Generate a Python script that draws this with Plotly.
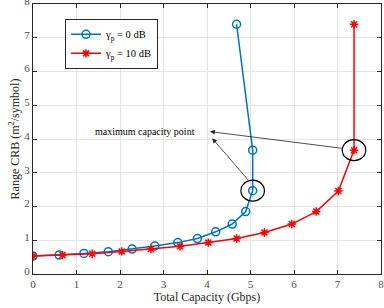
import plotly.graph_objects as go

blue_x = [0, 0.6, 1.17, 1.73, 2.28, 2.8, 3.33, 3.78, 4.2, 4.58, 4.89, 5.05, 5.05, 4.68]
blue_y = [0.53, 0.56, 0.61, 0.66, 0.74, 0.83, 0.93, 1.05, 1.25, 1.48, 1.85, 2.47, 3.67, 7.4]
red_x = [0, 0.68, 1.36, 2.04, 2.71, 3.38, 4.03, 4.68, 5.32, 5.95, 6.51, 7.02, 7.38, 7.38]
red_y = [0.53, 0.56, 0.6, 0.67, 0.74, 0.82, 0.93, 1.05, 1.23, 1.48, 1.85, 2.46, 3.67, 7.4]
x_ticks = [0, 1, 2, 3, 4, 5, 6, 7, 8]
y_ticks = [0, 1, 2, 3, 4, 5, 6, 7, 8]
label_text = "maximum capacity point"
label_pos = (2.57, 4.22)
arrow_head = (4.07, 4.22)

FONT = "Liberation Serif"
blue = "#0072BD"
red = "#FF0000"

fig = go.Figure()
fig.add_trace(go.Scatter(x=blue_x, y=blue_y, mode="lines+markers", name="γ<sub>p</sub> = 0 dB",
                         line=dict(color=blue, width=1.5),
                         marker=dict(symbol="circle-open", size=8, color=blue, line=dict(width=1.5, color=blue))))
fig.add_trace(go.Scatter(x=red_x, y=red_y, mode="lines+markers", name="γ<sub>p</sub> = 10 dB",
                         line=dict(color=red, width=1.5),
                         marker=dict(symbol="asterisk-open", size=7, color=red, line=dict(width=1.5, color=red))))

# ellipses around maximum capacity points
bi, ri = 11, 12
for cx, cy in [(blue_x[bi], blue_y[bi]), (red_x[ri], red_y[ri])]:
    fig.add_shape(type="circle", xref="x", yref="y",
                  x0=cx - 0.27, x1=cx + 0.27, y0=cy - 0.31, y1=cy + 0.31,
                  line=dict(color="black", width=1.2))

# arrows
fig.add_annotation(x=arrow_head[0], y=arrow_head[1], ax=red_x[ri] - 0.25, ay=red_y[ri] + 0.05,
                   xref="x", yref="y", axref="x", ayref="y", text="", showarrow=True,
                   arrowhead=2, arrowsize=1.2, arrowwidth=0.8, arrowcolor="#222")
fig.add_annotation(x=arrow_head[0] + 0.05, y=arrow_head[1] - 0.2, ax=blue_x[bi] - 0.08, ay=blue_y[bi] + 0.28,
                   xref="x", yref="y", axref="x", ayref="y", text="", showarrow=True,
                   arrowhead=2, arrowsize=1.2, arrowwidth=0.8, arrowcolor="#222")
fig.add_annotation(x=label_pos[0], y=label_pos[1], xref="x", yref="y", text=label_text,
                   showarrow=False, font=dict(family=FONT, size=10, color="black"))

axis_common = dict(range=[0, 8], showline=True, linecolor="#262626", linewidth=1, mirror="ticks",
                   ticks="inside", ticklen=4, tickcolor="#262626", showgrid=True, gridcolor="#E5E5E5",
                   zeroline=False, automargin=False, ticklabeloverflow="allow",
                   tickfont=dict(family=FONT, size=11, color="#4D4D4D"))
fig.update_xaxes(tickvals=x_ticks, title=dict(text="Total Capacity (Gbps)", font=dict(family=FONT, size=12, color="#262626"), standoff=2),
                 **axis_common)
fig.update_yaxes(tickvals=y_ticks, ticklabelshift=-3,
                 title=dict(text="Range CRB (m<sup>2</sup>/symbol)", font=dict(family=FONT, size=12, color="#262626"), standoff=2),
                 **axis_common)

fig.update_layout(width=384, height=308, margin=dict(l=33, r=3, t=4, b=34),
                  plot_bgcolor="white", paper_bgcolor="white",
                  legend=dict(x=0.092, y=0.945, xanchor="left", yanchor="top", bgcolor="white",
                              bordercolor="#262626", borderwidth=1, font=dict(family=FONT, size=10.5, color="black"),
                              tracegroupgap=0, itemwidth=30),
                  showlegend=True)
fig.write_html("out.html", config={"displayModeBar": False},
               post_script="document.body.style.margin='0';document.body.style.overflow='hidden';")
